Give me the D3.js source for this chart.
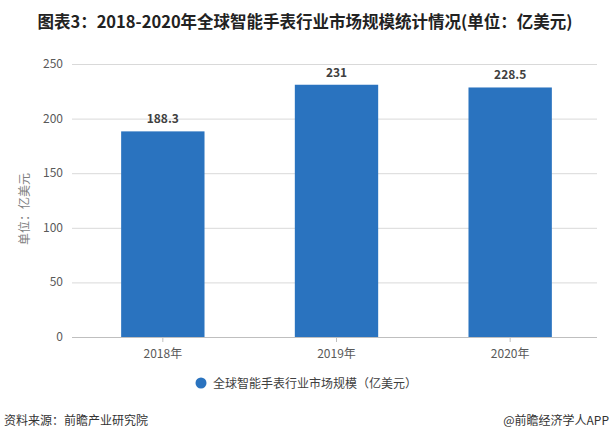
<!DOCTYPE html>
<html><head><meta charset="utf-8">
<script src="https://cdn.jsdelivr.net/npm/d3@7"></script>
<style>body{margin:0;background:#fff;}svg{display:block;font-family:"Microsoft YaHei","Noto Sans CJK SC",sans-serif;}</style>
</head><body>
<svg id="c" width="613" height="440"></svg>
<script>
const categories = ["2018年","2019年","2020年"];
const values = [188.3, 231, 228.5];
const valueLabels = ["188.3","231","228.5"];
const yTicks = [0,50,100,150,200,250];
const seriesName = "全球智能手表行业市场规模（亿美元）";
const title = "图表3：2018-2020年全球智能手表行业市场规模统计情况(单位：亿美元)";
const yLabel = "单位：亿美元";
const sourceLeft = "资料来源：前瞻产业研究院";
const sourceRight = "@前瞻经济学人APP";

const svg = d3.select("#c");
const m = {l:76, r:597, t:64, b:337};
const x = d3.scaleBand().domain(categories).range([m.l, m.r]).paddingInner(0.52).paddingOuter(0.26);
const y = d3.scaleLinear().domain([0,250]).range([m.b, m.t]);
const color = "#2A73BF";

svg.append("text").attr("x",305).attr("y",28).attr("text-anchor","middle")
  .attr("font-size",16.5).attr("font-weight","bold").attr("fill","#222").text(title);

// grid
svg.append("g").selectAll("line").data(yTicks.filter(d=>d>0)).join("line")
  .attr("x1",72).attr("x2",m.r).attr("y1",d=>y(d)+0.5).attr("y2",d=>y(d)+0.5)
  .attr("stroke","#d9d9d9");
// y labels
svg.append("g").selectAll("text").data(yTicks).join("text")
  .attr("x",63).attr("y",d=>y(d)+4).attr("text-anchor","end")
  .attr("font-size",12).attr("fill","#595959").text(d=>d);

svg.append("text").attr("transform",`translate(29,209) rotate(-90)`)
  .attr("text-anchor","middle").attr("font-size",12).attr("fill","#7f7f7f").text(yLabel);

// bars
svg.append("g").selectAll("rect").data(values).join("rect")
  .attr("x",(d,i)=>x(categories[i])).attr("width",x.bandwidth())
  .attr("y",d=>y(d)).attr("height",d=>y(0)-y(d)).attr("fill",color);

svg.append("g").selectAll("text").data(values).join("text")
  .attr("x",(d,i)=>x(categories[i])+x.bandwidth()/2).attr("y",d=>y(d)-8)
  .attr("text-anchor","middle").attr("font-size",12).attr("font-weight","bold")
  .attr("fill","#404040").text((d,i)=>valueLabels[i]);

// x axis
const xa = svg.append("g").attr("transform",`translate(0,${m.b})`)
  .call(d3.axisBottom(x).tickSize(5).tickSizeOuter(0));
xa.select(".domain").attr("stroke","#bfbfbf").attr("d",`M72,0.5H${m.r}`);
xa.selectAll(".tick line").attr("stroke","#bfbfbf");
xa.selectAll("text").attr("font-size",12).attr("fill","#595959").attr("dy","1.1em")
  .attr("font-family","'Microsoft YaHei','Noto Sans CJK SC',sans-serif");

// legend
svg.append("circle").attr("cx",201).attr("cy",383).attr("r",5.5).attr("fill",color);
svg.append("text").attr("x",213).attr("y",388).attr("font-size",12).attr("fill","#404040").text(seriesName);

svg.append("text").attr("x",4).attr("y",425).attr("font-size",12).attr("fill","#333").text(sourceLeft);
svg.append("text").attr("x",609).attr("y",425).attr("text-anchor","end").attr("font-size",12).attr("fill","#333").text(sourceRight);
</script>
</body></html>
